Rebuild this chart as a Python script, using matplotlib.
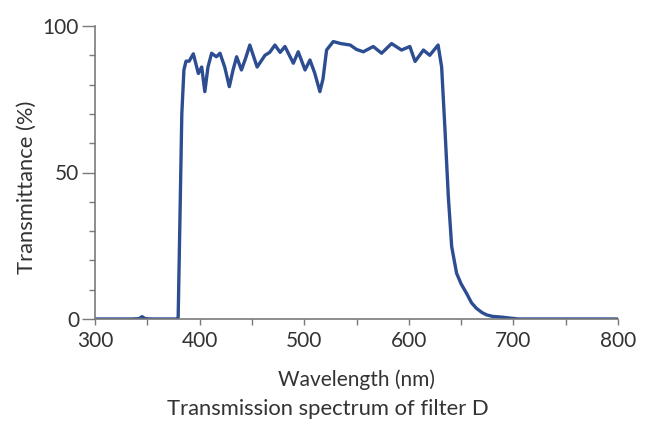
import matplotlib
matplotlib.use("Agg")
import matplotlib.pyplot as plt
from matplotlib.ticker import MultipleLocator

wavelength = [300, 335, 342, 345, 348, 355, 378, 379.5, 381, 383, 385, 387,
              390, 394, 398.8, 402, 405, 408, 411.5, 416, 419.5, 424, 428.4,
              432, 435.4, 440, 444, 448, 455, 462.5, 467, 472, 477, 481.6,
              489.6, 494.3, 500.8, 505.5, 510, 515, 518, 521.4, 527.8, 535,
              544, 550, 556.5, 566, 574, 583.5, 593, 601, 606, 614, 620, 628,
              631.4, 634.6, 637.8, 641, 645.7, 650, 655.3, 660, 664.8, 670,
              674.4, 680, 690, 697, 705, 800]
transmittance = [0, 0, 0.1, 0.8, 0.1, 0, 0, 0.5, 30, 70, 85, 88,
                 88, 90.5, 83.8, 86, 77.6, 86, 90.7, 89.5, 90.7, 86, 79.3,
                 85, 89.5, 85, 89, 93.5, 86, 90, 91, 93.5, 91, 93,
                 87.3, 91.2, 85, 88.4, 84, 77.6, 82, 91.8, 94.7, 94,
                 93.5, 92, 91.2, 93, 90.7, 94, 91.8, 93, 87.9, 91.8, 90, 93.5,
                 86, 64.5, 41.7, 24.7, 15.6, 12, 8.7, 5.5, 3.6, 2.2,
                 1.4, 0.9, 0.6, 0.3, 0, 0]

x_ticks = [300, 400, 500, 600, 700, 800]
y_ticks = [0, 50, 100]

line_color = "#2c4d91"
axis_color = "#7a7a7a"
text_color = "#333333"
font = ["Lato", "DejaVu Sans"]

fig = plt.figure(figsize=(6.51, 4.22), dpi=100)
ax = fig.add_axes([95/651, 1-319/422, (618-95)/651, (319-26)/422])

ax.plot(wavelength, transmittance, color=line_color, lw=2.4,
        solid_joinstyle="round", solid_capstyle="round")

ax.set_xlim(300, 800)
ax.set_ylim(0, 100)
ax.set_xticks(x_ticks)
ax.set_yticks(y_ticks)
ax.xaxis.set_minor_locator(MultipleLocator(50))
ax.yaxis.set_minor_locator(MultipleLocator(10))

for s in ["top", "right"]:
    ax.spines[s].set_visible(False)
for s in ["left", "bottom"]:
    ax.spines[s].set_color(axis_color)
    ax.spines[s].set_linewidth(1.2)

ax.tick_params(axis="x", which="both", direction="out", length=4.5, width=1.0,
               color=axis_color, labelsize=15, labelcolor=text_color, pad=4)
ax.tick_params(axis="y", which="major", direction="out", length=9.5, width=1.0,
               color=axis_color, labelsize=15, labelcolor=text_color, pad=2)
ax.tick_params(axis="y", which="minor", direction="out", length=4, width=1.0,
               color=axis_color)
for lab in ax.get_xticklabels() + ax.get_yticklabels():
    lab.set_family(font)

ax.set_xlabel("Wavelength (nm)", fontsize=15, color=text_color, family=font)
ax.xaxis.set_label_coords(0.5, -(380 - 319) / (319 - 26), transform=ax.transAxes)
ax.xaxis.label.set_va("center")
ax.set_ylabel("Transmittance (%)", fontsize=15.8, color=text_color, family=font)
ax.yaxis.set_label_coords(-(95 - 27) / (618 - 95), (319 - 187) / (319 - 26),
                          transform=ax.transAxes)
ax.yaxis.label.set_va("center")
fig.text(328 / 651, 1 - 409 / 422, "Transmission spectrum of filter D", ha="center",
         va="center", fontsize=15.8, color=text_color, family=font)

fig.savefig("out.png", dpi=100)
